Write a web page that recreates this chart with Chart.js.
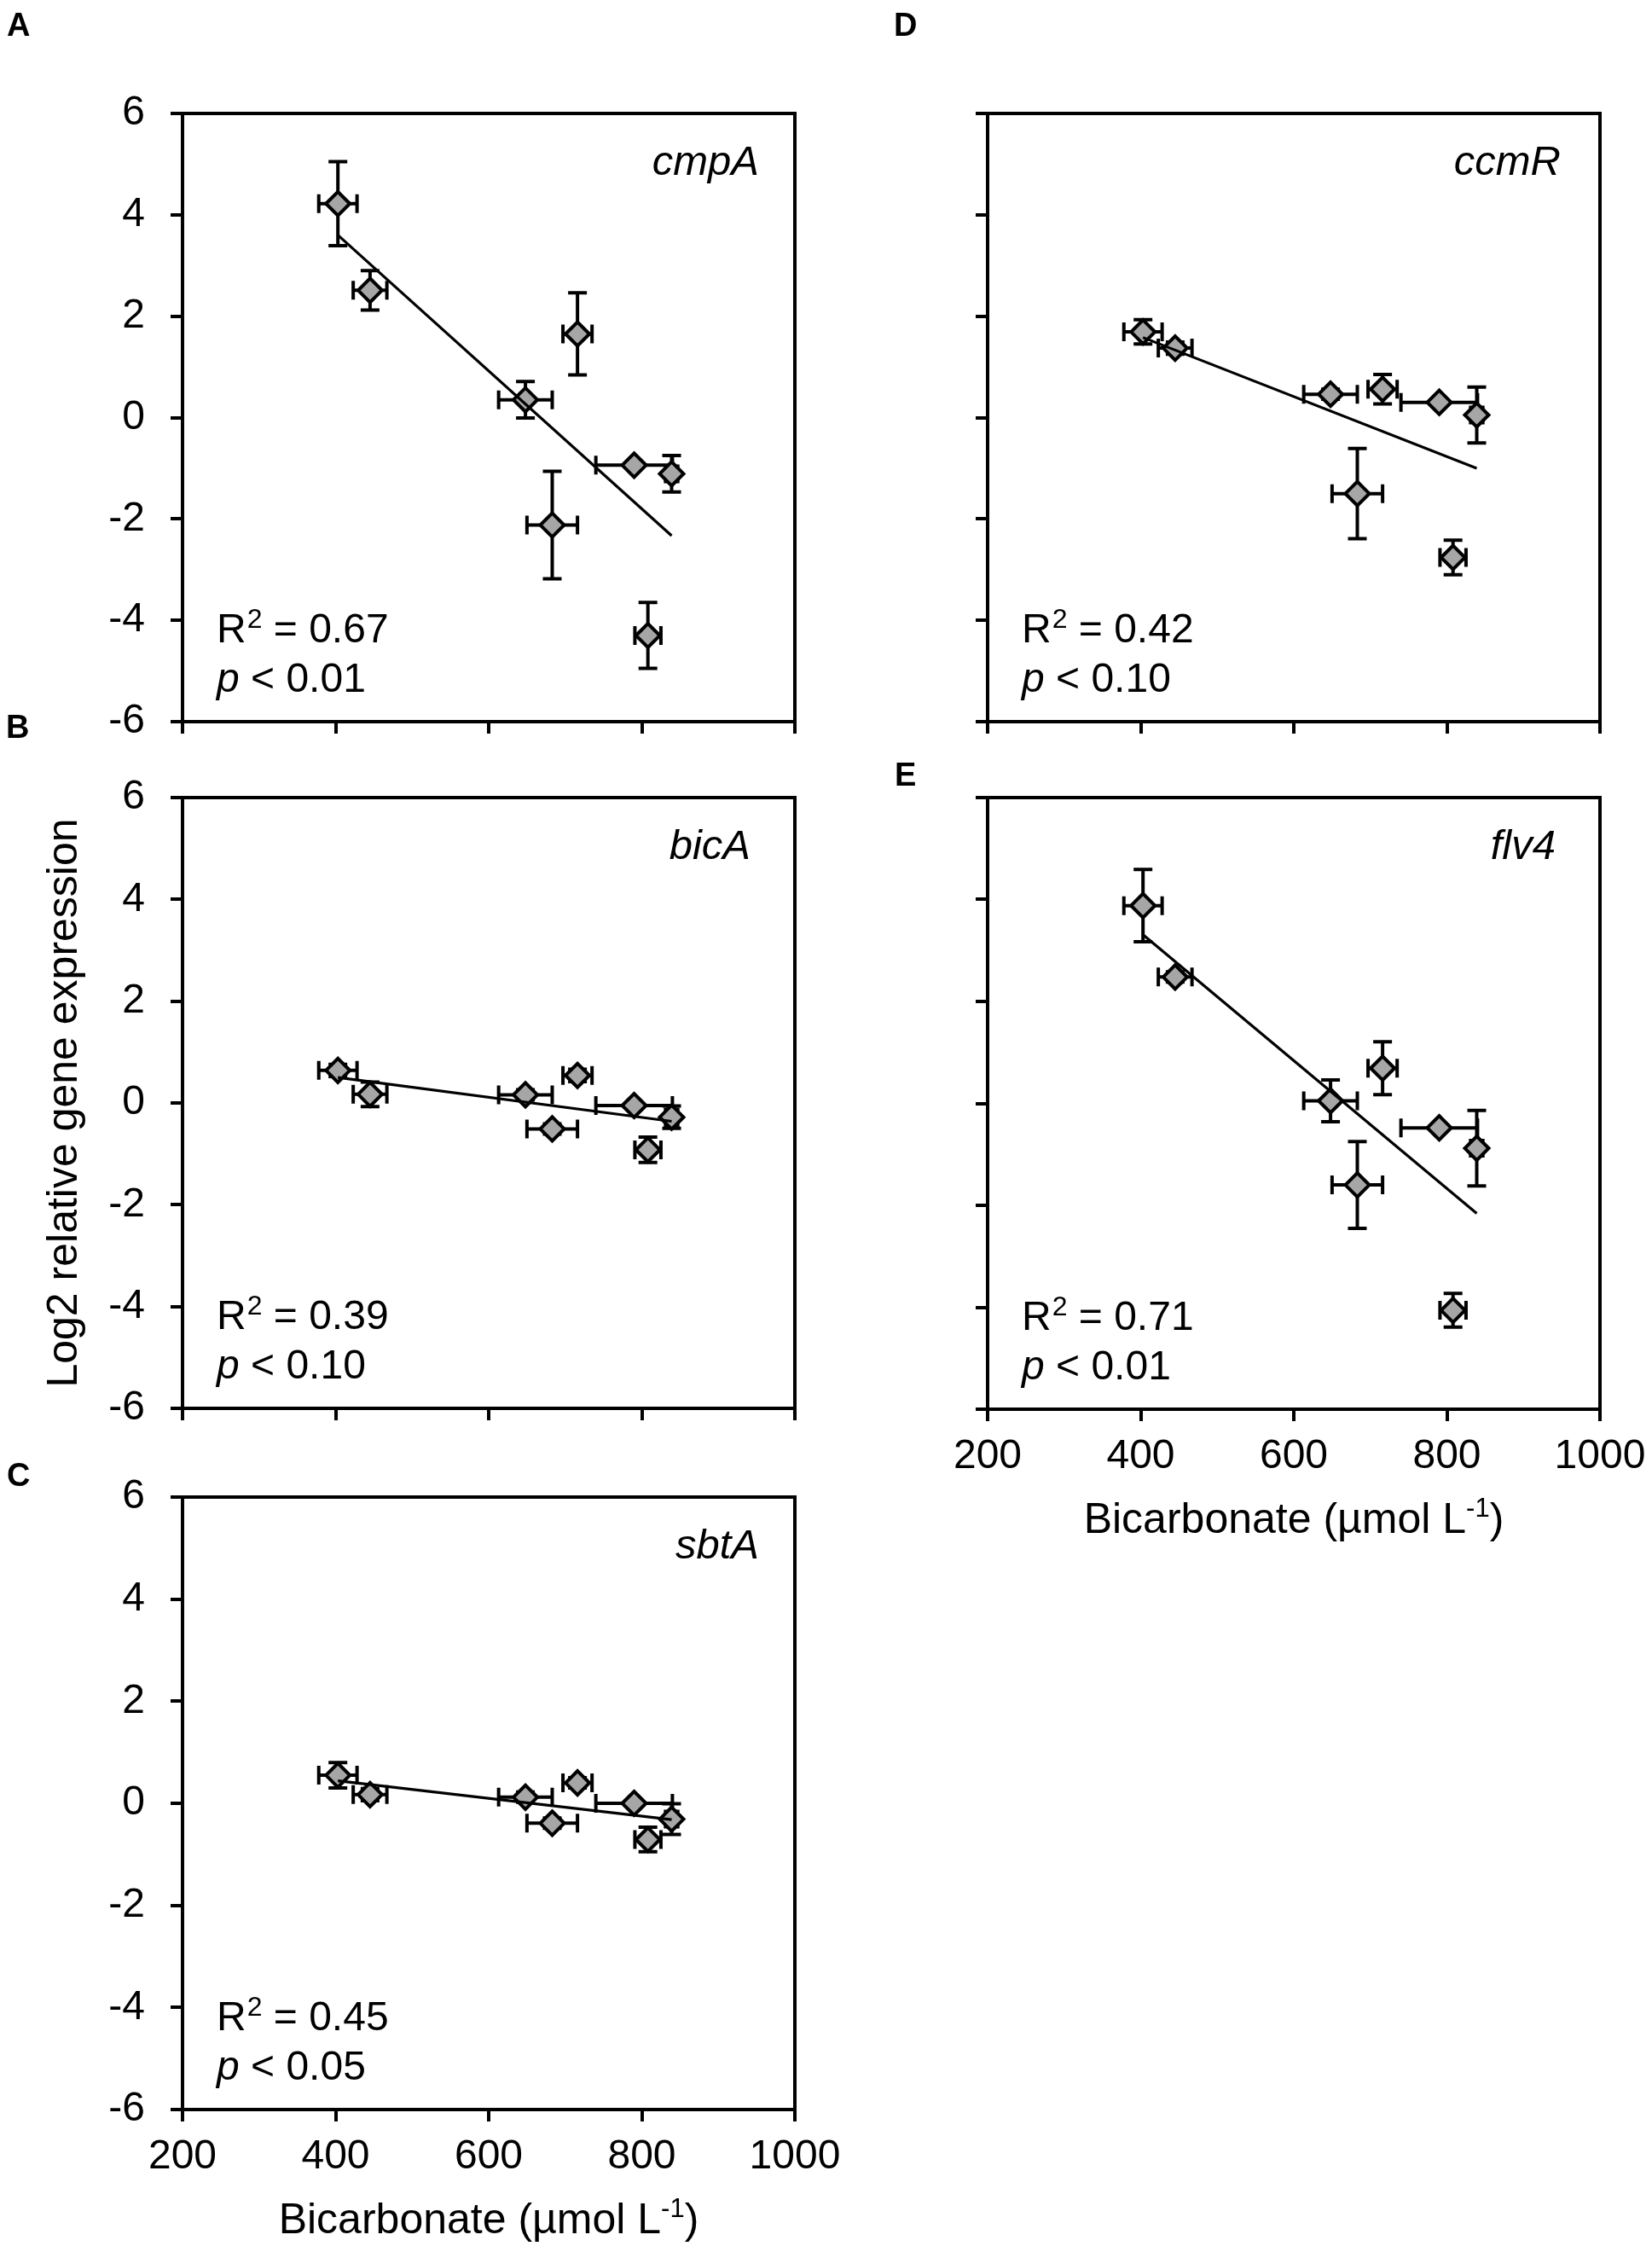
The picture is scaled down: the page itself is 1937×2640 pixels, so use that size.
<!DOCTYPE html>
<html><head><meta charset="utf-8">
<script src="https://cdn.jsdelivr.net/npm/chart.js@4/dist/chart.umd.min.js"></script>
<style>
html,body{margin:0;padding:0;background:#fff;}
body{width:1937px;height:2640px;position:relative;overflow:hidden;}
canvas{position:absolute;}
.lbl{position:absolute;z-index:5;font:bold 38px 'Liberation Sans',Arial,sans-serif;line-height:38px;color:#000;}
</style></head><body>
<canvas id="cA" width="1000" height="886" style="left:0px;top:0px"></canvas>
<canvas id="cB" width="1000" height="811" style="left:0px;top:880px"></canvas>
<canvas id="cC" width="1000" height="937" style="left:0px;top:1700px"></canvas>
<canvas id="cD" width="937" height="886" style="left:1000px;top:0px"></canvas>
<canvas id="cE" width="937" height="936" style="left:1000px;top:880px"></canvas>
<div class="lbl" style="left:8px;top:10px">A</div>
<div class="lbl" style="left:7px;top:833px">B</div>
<div class="lbl" style="left:8px;top:1710px">C</div>
<div class="lbl" style="left:1048px;top:10px">D</div>
<div class="lbl" style="left:1049px;top:889px">E</div>
<script>
// ---- data ----
const bicarbonate   = [403, 445, 648, 683, 716, 790, 808, 839];
const bicarbonateSE = [25, 22, 35, 33, 19, 50, 17, 8];

const cmpA   = [4.22, 2.51, 0.35, -2.12, 1.65, -0.94, -4.30, -1.11];
const cmpASE = [0.83, 0.39, 0.36, 1.06, 0.81, 0, 0.65, 0.36];

const bicA   = [0.64, 0.17, 0.16, -0.51, 0.54, -0.05, -0.92, -0.28];
const bicASE = [0.12, 0.24, 0.10, 0.10, 0.12, 0, 0.25, 0.22];

const sbtA   = [0.55, 0.17, 0.12, -0.39, 0.40, 0.00, -0.71, -0.31];
const sbtASE = [0.25, 0.12, 0.10, 0.10, 0.10, 0, 0.24, 0.30];

const ccmR   = [1.69, 1.37, 0.46, -1.50, 0.56, 0.30, -2.76, 0.05];
const ccmRSE = [0.24, 0.12, 0.10, 0.89, 0.29, 0, 0.34, 0.55];

const flv4   = [3.88, 2.48, 0.05, -1.60, 0.69, -0.48, -4.06, -0.88];
const flv4SE = [0.71, 0.10, 0.41, 0.85, 0.52, 0, 0.33, 0.74];

const trendX    = [403, 839];
const cmpATrend = [3.60, -2.33];
const bicATrend = [0.50, -0.36];
const sbtATrend = [0.44, -0.32];
const ccmRTrend = [1.58, -1.00];
const flv4Trend = [3.31, -2.16];

const rSquared = {cmpA: '0.67', bicA: '0.39', sbtA: '0.45', ccmR: '0.42', flv4: '0.71'};
const pValue   = {cmpA: '0.01', bicA: '0.10', sbtA: '0.05', ccmR: '0.10', flv4: '0.01'};

const xTicks = [200, 400, 600, 800, 1000];
const yTicks = [-6, -4, -2, 0, 2, 4, 6];
const yTitle = 'Log2 relative gene expression';
const xTitleMain = 'Bicarbonate (\u00b5mol L';
const xTitleSup = '-1';
const xTitleEnd = ')';

// ---- drawing ----
const FAM = "'Liberation Sans', Arial, sans-serif";
const FS = 48;
const TFS = 50;

const panelPlugin = {
  id: 'panel',
  beforeDatasetsDraw(chart) {
    const ctx = chart.ctx, xs = chart.scales.x, ys = chart.scales.y;
    const ds = chart.data.datasets[1];
    ctx.save();
    ctx.strokeStyle = '#000';
    ctx.lineWidth = 4;
    ctx.lineCap = 'butt';
    const cap = 11;
    ds.data.forEach((pt, i) => {
      const px = xs.getPixelForValue(pt.x), py = ys.getPixelForValue(pt.y);
      const ex = ds.errX[i], ey = ds.errY[i];
      ctx.beginPath();
      if (ey > 0) {
        const t = ys.getPixelForValue(pt.y + ey), b = ys.getPixelForValue(pt.y - ey);
        ctx.moveTo(px, t); ctx.lineTo(px, b);
        ctx.moveTo(px - cap, t); ctx.lineTo(px + cap, t);
        ctx.moveTo(px - cap, b); ctx.lineTo(px + cap, b);
      }
      if (ex > 0) {
        const l = xs.getPixelForValue(pt.x - ex), r = xs.getPixelForValue(pt.x + ex);
        ctx.moveTo(l, py); ctx.lineTo(r, py);
        ctx.moveTo(l, py - cap); ctx.lineTo(l, py + cap);
        ctx.moveTo(r, py - cap); ctx.lineTo(r, py + cap);
      }
      ctx.stroke();
    });
    ctx.restore();
  },
  afterDraw(chart) {
    const ctx = chart.ctx, a = chart.chartArea, o = chart.options.plugins.panel;
    ctx.save();
    // frame
    ctx.strokeStyle = '#000';
    ctx.lineWidth = 4;
    ctx.strokeRect(a.left, a.top, a.right - a.left, a.bottom - a.top);
    ctx.fillStyle = '#000';
    ctx.textBaseline = 'alphabetic';
    // gene name
    ctx.font = 'italic ' + (FS + 1) + 'px ' + FAM;
    ctx.textAlign = 'right';
    ctx.fillText(o.gene, a.right - o.geneOff, a.top + 72);
    // R2
    ctx.textAlign = 'left';
    let x = a.left + 40;
    const rb = a.bottom - 93;
    ctx.font = FS + 'px ' + FAM;
    ctx.fillText('R', x, rb); x += ctx.measureText('R').width + 1;
    ctx.font = '32px ' + FAM;
    ctx.fillText('2', x, rb - 17); x += ctx.measureText('2').width;
    ctx.font = FS + 'px ' + FAM;
    ctx.fillText(' = ' + o.r2, x, rb);
    // p
    ctx.font = 'italic ' + FS + 'px ' + FAM;
    ctx.fillText('p', a.left + 40, a.bottom - 35);
    const pw = ctx.measureText('p').width;
    ctx.font = FS + 'px ' + FAM;
    ctx.fillText(' < ' + o.p, a.left + 40 + pw, a.bottom - 35);
    // x-axis title
    if (o.xTitle) {
      ctx.font = TFS + 'px ' + FAM;
      const w1 = ctx.measureText(xTitleMain).width;
      ctx.font = '31px ' + FAM;
      const w2 = ctx.measureText(xTitleSup).width;
      ctx.font = TFS + 'px ' + FAM;
      const w3 = ctx.measureText(xTitleEnd).width;
      const total = w1 + w2 + w3;
      let tx = (a.left + a.right) / 2 - total / 2;
      const base = a.bottom + 145;
      ctx.fillText(xTitleMain, tx, base); tx += w1;
      ctx.font = '31px ' + FAM;
      ctx.fillText(xTitleSup, tx, base - 19); tx += w2;
      ctx.font = TFS + 'px ' + FAM;
      ctx.fillText(xTitleEnd, tx, base);
    }
    ctx.restore();
  }
};

function makePanel(id, p) {
  const pts = bicarbonate.map((x, i) => ({x: x, y: p.y[i]}));
  const trend = trendX.map((x, i) => ({x: x, y: p.trend[i]}));
  const gridOpts = {drawOnChartArea: false, drawTicks: true, tickLength: 14, tickWidth: 4,
                    tickColor: '#000', color: '#000', lineWidth: 4};
  new Chart(document.getElementById(id), {
    type: 'scatter',
    data: {
      datasets: [
        {data: trend, showLine: true, borderColor: '#000', borderWidth: 3.2, pointRadius: 0,
         pointHoverRadius: 0, fill: false, order: 0},
        {data: pts, errX: bicarbonateSE, errY: p.err, pointStyle: 'rectRot', pointRadius: 14,
         pointHoverRadius: 14, pointBackgroundColor: '#a6a6a6', pointBorderColor: '#000',
         pointBorderWidth: 4, pointHoverBorderWidth: 4, showLine: false, order: 1}
      ]
    },
    options: {
      responsive: false, animation: false, devicePixelRatio: 1, events: [],
      layout: {padding: {top: p.padTop, right: p.padRight, left: 0, bottom: 0}},
      plugins: {legend: {display: false}, tooltip: {enabled: false},
        panel: {gene: p.gene, r2: rSquared[p.gene], p: pValue[p.gene], geneOff: p.geneOff, xTitle: p.showX}},
      scales: {
        x: {type: 'linear', min: 200, max: 1000,
          afterBuildTicks: s => { s.ticks = xTicks.map(v => ({value: v})); },
          afterFit: s => { s.height = p.xH; s.paddingLeft = 0; s.paddingRight = 0; },
          grid: gridOpts, border: {display: false},
          ticks: {display: p.showX, color: '#000', font: {family: FAM, size: FS}, padding: 13,
                  maxRotation: 0, autoSkip: false, callback: v => String(v)}
        },
        y: {type: 'linear', min: -6, max: 6,
          afterBuildTicks: s => { s.ticks = yTicks.map(v => ({value: v})); },
          afterFit: s => { s.width = p.yW; s.paddingTop = 0; s.paddingBottom = 0; },
          grid: gridOpts, border: {display: false},
          ticks: {display: p.showY, color: '#000', font: {family: FAM, size: FS}, padding: 30,
                  autoSkip: false, callback: v => String(v)},
          title: {display: !!p.yTitle, text: yTitle, color: '#000', font: {family: FAM, size: TFS},
                  padding: {top: 46, bottom: 0}}
        }
      }
    },
    plugins: [panelPlugin]
  });
}

makePanel('cA', {gene: 'cmpA', y: cmpA, err: cmpASE, trend: cmpATrend, padTop: 133, padRight: 68,
                 yW: 214, xH: 40, showX: false, showY: true, geneOff: 42});
makePanel('cB', {gene: 'bicA', y: bicA, err: bicASE, trend: bicATrend, padTop: 55, padRight: 68,
                 yW: 214, xH: 40, showX: false, showY: true, geneOff: 52, yTitle: true});
makePanel('cC', {gene: 'sbtA', y: sbtA, err: sbtASE, trend: sbtATrend, padTop: 55, padRight: 68,
                 yW: 214, xH: 164, showX: true, showY: true, geneOff: 42});
makePanel('cD', {gene: 'ccmR', y: ccmR, err: ccmRSE, trend: ccmRTrend, padTop: 133, padRight: 61,
                 yW: 158, xH: 40, showX: false, showY: false, geneOff: 46});
makePanel('cE', {gene: 'flv4', y: flv4, err: flv4SE, trend: flv4Trend, padTop: 55, padRight: 61,
                 yW: 158, xH: 164, showX: true, showY: false, geneOff: 52});
</script>
</body></html>
